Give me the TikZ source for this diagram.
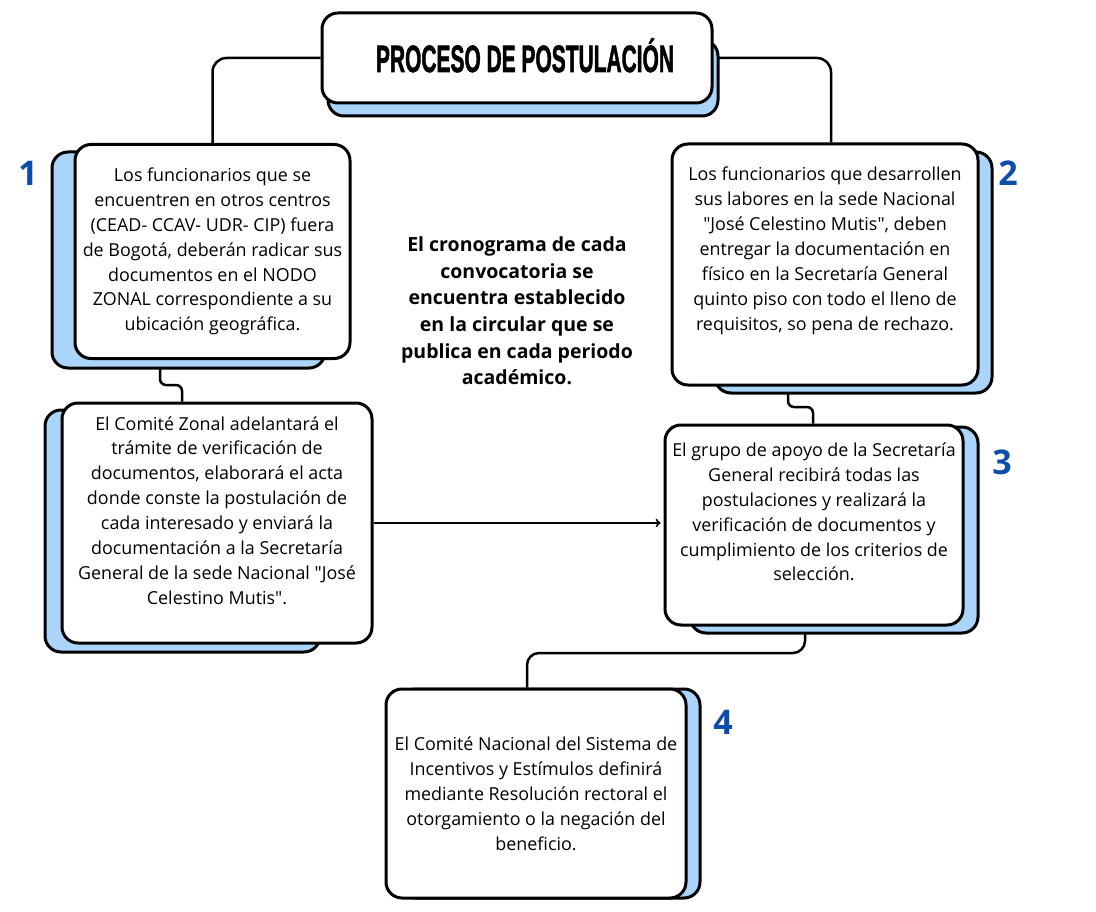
\documentclass[tikz,border=0pt]{standalone}
\usepackage{fontspec}
\setmainfont{Open Sans}
\newfontfamily\titlefont[BoldFeatures={FakeBold=2}]{Liberation Sans}
\usepackage{xcolor}
\usetikzlibrary{shapes, arrows, positioning, calc, backgrounds}
\definecolor{sombra}{RGB}{170,212,250}
\definecolor{numazul}{RGB}{12,76,170}
\tikzstyle{proc.box} = [rectangle, fill=white, draw=black, line width=3pt, rounded corners=16pt, inner sep=0pt]
\tikzstyle{proc.shadow} = [rectangle, fill=sombra, draw=black, line width=3pt, rounded corners=16pt, inner sep=0pt]
\tikzstyle{proc.text} = [align=center, font=\fontsize{17.9}{24.9}\selectfont]
\tikzstyle{proc.num} = [text=numazul, font=\fontsize{34}{34}\selectfont\bfseries]
\tikzstyle{proc.flow} = [line width=2.5pt, black, rounded corners=14pt]

\begin{document}
\begin{tikzpicture}[x=1pt, y=-1pt]
\useasboundingbox (0,0) rectangle (1096,912);

% sombras
\node[proc.shadow, minimum width=390pt, minimum height=76pt] (title_s) at (523,78) {};
\node[proc.shadow, minimum width=273pt, minimum height=216pt] (b1_s) at (188.5,260) {};
\node[proc.shadow, minimum width=275pt, minimum height=242pt] (bB_s) at (182.5,531) {};
\node[proc.shadow, minimum width=277pt, minimum height=241pt] (b2_s) at (853.5,272.5) {};
\node[proc.shadow, minimum width=288pt, minimum height=206pt] (b3_s) at (834,530) {};
\node[proc.shadow, minimum width=300pt, minimum height=209pt] (b4_s) at (550,793.5) {};

% cajas
\node[proc.box, minimum width=390pt, minimum height=90pt] (title) at (517,58) {};
\node[proc.box, minimum width=275pt, minimum height=214pt] (b1) at (212.5,251.5) {};
\node[proc.box, minimum width=310pt, minimum height=240pt] (bB) at (217,523) {};
\node[proc.box, minimum width=306pt, minimum height=241pt] (b2) at (825,264.5) {};
\node[proc.box, minimum width=298pt, minimum height=200pt] (b3) at (814,525) {};
\node[proc.box, minimum width=300pt, minimum height=209pt] (b4) at (536,793.5) {};

\node[anchor=base, font=\titlefont\bfseries\fontsize{38}{38}\selectfont] (title_txt) at (525,72)
  {\resizebox{298pt}{\height}{PROCESO DE POSTULACIÓN}};

\node[proc.text] (b1_txt) at (b1.center) {Los funcionarios que se\\ encuentren en otros centros\\ (CEAD- CCAV- UDR- CIP) fuera\\ de Bogotá, deberán radicar sus\\ documentos en el NODO\\ ZONAL correspondiente a su\\ ubicación geográfica.};
\node[proc.text] (bB_txt) at ($(bB.center)+(0,-12.5)$) {El Comité Zonal adelantará el\\ trámite de verificación de\\ documentos, elaborará el acta\\ donde conste la postulación de\\ cada interesado y enviará la\\ documentación a la Secretaría\\ General de la sede Nacional \textquotedbl José\\ Celestino Mutis\textquotedbl.};
\node[proc.text] (b2_txt) at ($(b2.center)+(0,-13.5)$) {Los funcionarios que desarrollen\\ sus labores en la sede Nacional\\ \textquotedbl José Celestino Mutis\textquotedbl, deben\\ entregar la documentación en\\ físico en la Secretaría General\\ quinto piso con todo el lleno de\\ requisitos, so pena de rechazo.};
\node[proc.text] (b3_txt) at ($(b3.center)+(0,-13)$) {El grupo de apoyo de la Secretaría\\ General recibirá todas las\\ postulaciones y realizará la\\ verificación de documentos y\\ cumplimiento de los criterios de\\ selección.};
\node[proc.text] (b4_txt) at (b4.center) {El Comité Nacional del Sistema de\\ Incentivos y Estímulos definirá\\ mediante Resolución rectoral el\\ otorgamiento o la negación del\\ beneficio.};

\node[proc.text, font=\fontsize{19.5}{26.6}\selectfont\bfseries] (crono) at (517,311) {El cronograma de cada\\ convocatoria se\\ encuentra establecido\\ en la circular que se\\ publica en cada periodo\\ académico.};

% numeros
\node[proc.num] (n1) at (28,173) {1};
\node[proc.num] (n2) at (1008,173) {2};
\node[proc.num] (n3) at (1002,462) {3};
\node[proc.num] (n4) at (723,722) {4};

% conectores
\begin{scope}[on background layer]
\draw[proc.flow] (title.west) -| (b1.north);
\draw[proc.flow] (title.east) -| ([xshift=6pt]b2.north);
\draw[proc.flow, rounded corners=6pt] (b1.south -| 160,0) |- (182,385) -- (bB.north -| 182,0);
\draw[proc.flow, rounded corners=6pt] (b2.south -| 788,0) |- (813,407) -- (b3.north -| 813,0);
\draw[proc.flow, rounded corners=12pt] (b3.south -| 805,0) |- (527,653) -- (b4.north -| 527,0);
\end{scope}
\draw[proc.flow, line width=2pt, ->] (bB.east) -- ([xshift=-3pt]bB.east -| b3.west);
\end{tikzpicture}
\end{document}
